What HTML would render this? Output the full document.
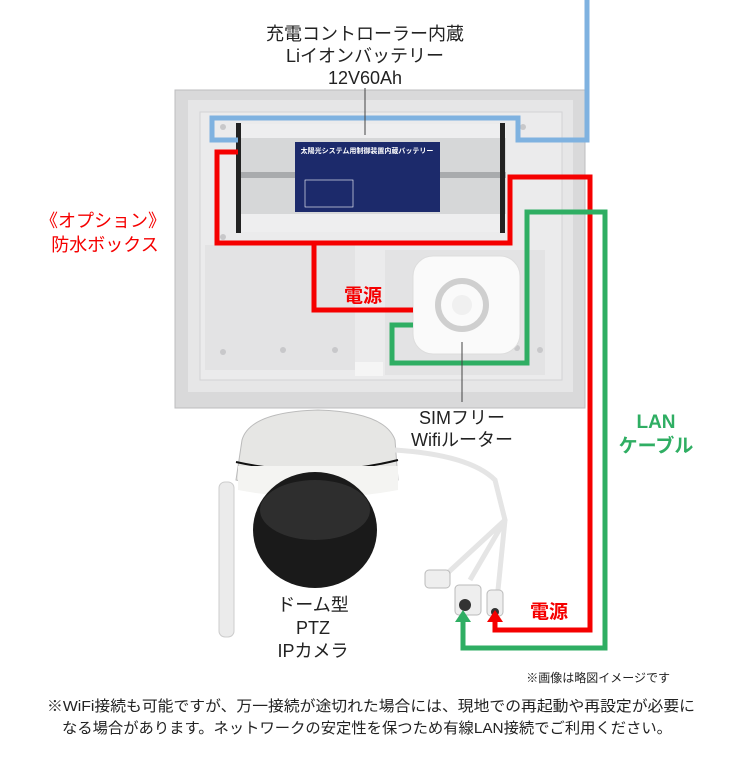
<!DOCTYPE html>
<html><head><meta charset="utf-8"><style>
body{margin:0;background:#fff}
svg{display:block}
text{font-family:"Liberation Sans","Noto Sans CJK JP",sans-serif}
</style></head><body>
<svg width="740" height="767" viewBox="0 0 740 767" xmlns="http://www.w3.org/2000/svg">
<!-- box -->
<rect x="175" y="90" width="410" height="318" fill="#d9d9da" stroke="#bdbdbf"/>
<rect x="188" y="100" width="385" height="292" fill="#e6e6e7"/>
<rect x="200" y="112" width="362" height="268" fill="#ebebec" stroke="#d3d3d5"/>
<rect x="205" y="245" width="150" height="125" fill="#e3e3e4"/>
<rect x="385" y="250" width="160" height="125" fill="#e3e3e4"/>
<g fill="#c8c8ca"><circle cx="223" cy="127" r="3"/><circle cx="523" cy="127" r="3"/><circle cx="223" cy="237" r="3"/><circle cx="283" cy="350" r="3"/><circle cx="335" cy="350" r="3"/><circle cx="223" cy="352" r="3"/><circle cx="517" cy="348" r="3"/><circle cx="540" cy="350" r="3"/></g>
<rect x="355" y="362" width="28" height="14" fill="#f5f5f5"/>
<!-- battery -->
<rect x="238" y="124" width="268" height="108" fill="#d6d7d8"/>
<rect x="238" y="124" width="268" height="14" fill="#eeeeef"/>
<rect x="238" y="172" width="268" height="6" fill="#a9abad"/>
<rect x="238" y="214" width="268" height="18" fill="#eeeeef"/>
<rect x="236" y="123" width="5" height="110" fill="#222"/>
<rect x="500" y="123" width="5" height="110" fill="#222"/>
<rect x="295" y="142" width="145" height="70" fill="#1c2a6b"/>
<text x="367" y="153" font-size="7" fill="#fff" text-anchor="middle" font-weight="bold">太陽光システム用制御装置内蔵バッテリー</text>
<rect x="305" y="180" width="48" height="27" fill="none" stroke="#fff" stroke-width=".6"/>
<!-- router -->
<rect x="413" y="256" width="107" height="98" rx="20" fill="#fafafa" stroke="#ddd"/>
<circle cx="462" cy="305" r="24" fill="none" stroke="#cfcfcf" stroke-width="6"/>
<circle cx="462" cy="305" r="10" fill="#f0f0f0"/>
<!-- camera -->
<rect x="219" y="482" width="15" height="155" rx="6" fill="#ebebeb" stroke="#ccc"/>
<path d="M242 440 Q250 412 318 410 Q385 412 395 440 L398 480 Q318 500 236 480 Z" fill="#e6e6e4" stroke="#bbb"/>
<path d="M236 462 Q318 480 398 460" stroke="#111" stroke-width="2" fill="none"/>
<path d="M238 466 L398 466 L398 490 Q318 505 238 490Z" fill="#f4f4f2"/>
<ellipse cx="315" cy="530" rx="62" ry="58" fill="#1a1a1a"/>
<ellipse cx="315" cy="510" rx="55" ry="30" fill="#2e2e2e"/>
<path d="M395 450 Q470 455 495 480 L505 520 L470 580 M505 520 L497 600 M505 520 L440 580" stroke="#e5e5e5" stroke-width="5" fill="none"/>
<rect x="425" y="570" width="25" height="18" rx="4" fill="#eee" stroke="#bbb"/>
<rect x="455" y="585" width="26" height="30" rx="4" fill="#eee" stroke="#bbb"/>
<rect x="487" y="590" width="16" height="26" rx="4" fill="#eee" stroke="#bbb"/>
<circle cx="465" cy="605" r="6" fill="#333"/><circle cx="495" cy="612" r="4" fill="#333"/>
<!-- lines -->
<polyline points="587,0 587,140 518,140 518,118 212,118 212,140 238,140" fill="none" stroke="#7fb2e0" stroke-width="5"/>
<polyline points="238,152 217,152 217,243 510,243 510,177 590,177 590,630 495,630 495,620" fill="none" stroke="#f50000" stroke-width="5"/>
<polyline points="314,243 314,310 413,310" fill="none" stroke="#f50000" stroke-width="5"/>
<polyline points="413,325 392,325 392,363 527,363 527,212 605,212 605,648 463,648 463,620" fill="none" stroke="#2fae63" stroke-width="5"/>
<polygon points="495,610 487,622 503,622" fill="#f50000"/>
<polygon points="463,610 455,622 471,622" fill="#2fae63"/>
<line x1="365" y1="88" x2="365" y2="135" stroke="#444" stroke-width="1"/>
<line x1="462" y1="342" x2="462" y2="402" stroke="#444" stroke-width="1"/>
<!-- labels -->
<g font-size="18" fill="#222" text-anchor="middle">
<text x="365" y="40">充電コントローラー内蔵</text>
<text x="365" y="62">Liイオンバッテリー</text>
<text x="365" y="84">12V60Ah</text>
<text x="462" y="424">SIMフリー</text>
<text x="462" y="446">Wifiルーター</text>
<text x="313" y="611">ドーム型</text>
<text x="313" y="634">PTZ</text>
<text x="313" y="657">IPカメラ</text>
</g>
<g font-size="18" fill="#f50000" text-anchor="middle">
<text x="103" y="227">《オプション》</text>
<text x="105" y="251">防水ボックス</text>
</g>
<text x="363" y="302" font-size="19" font-weight="bold" fill="#f50000" text-anchor="middle">電源</text>
<text x="549" y="618" font-size="19" font-weight="bold" fill="#f50000" text-anchor="middle">電源</text>
<text x="656" y="428" font-size="19" font-weight="bold" fill="#2fae63" text-anchor="middle">LAN</text>
<text x="656" y="452" font-size="19" font-weight="bold" fill="#2fae63" text-anchor="middle">ケーブル</text>
<text x="670" y="682" font-size="12" fill="#222" text-anchor="end">※画像は略図イメージです</text>
<text x="47" y="711" font-size="15" fill="#222" textLength="648" lengthAdjust="spacingAndGlyphs">※WiFi接続も可能ですが、万一接続が途切れた場合には、現地での再起動や再設定が必要に</text>
<text x="62" y="733" font-size="15" fill="#222" textLength="610" lengthAdjust="spacingAndGlyphs">なる場合があります。ネットワークの安定性を保つため有線LAN接続でご利用ください。</text>
</svg>
</body></html>
